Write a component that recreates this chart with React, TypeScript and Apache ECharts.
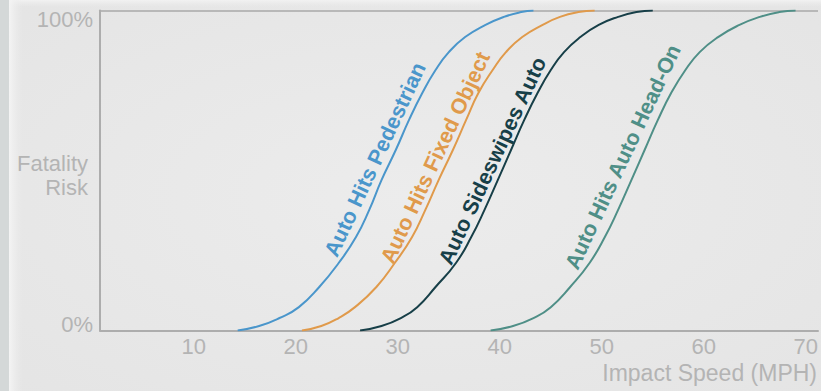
import React, { useEffect, useRef } from "react";
import * as echarts from "echarts";

// Impact speed (MPH) vs fatality risk (%)
const pedestrianSpeed = [14.3, 16.4, 18.4, 20.3, 22.3, 24.2, 25.9, 27.2, 28.4, 29.8, 31.1, 32.4, 33.7, 35.0, 36.6, 38.6, 40.4, 42.1, 43.3];
const pedestrianRisk = [0, 1.4, 3.9, 7.3, 13.6, 21.1, 29.2, 37.7, 47.0, 56.4, 65.8, 74.2, 81.4, 87.0, 91.7, 95.5, 98.0, 99.5, 100];

const fixedSpeed = [20.6, 22.5, 24.2, 25.8, 27.9, 29.7, 31.4, 32.7, 34.0, 35.4, 36.7, 37.9, 39.3, 40.6, 42.2, 44.2, 45.9, 47.7, 49.3];
const fixedRisk = [0, 1.4, 3.9, 7.3, 13.6, 21.1, 29.2, 37.7, 47.0, 56.4, 65.8, 74.2, 81.4, 87.0, 91.7, 95.5, 98.0, 99.5, 100];

const sideswipeSpeed = [26.3, 28.4, 30.3, 31.9, 33.7, 35.7, 37.2, 38.5, 39.8, 41.1, 42.4, 43.7, 45.0, 46.3, 47.9, 49.7, 51.6, 53.4, 55.0];
const sideswipeRisk = [0, 1.4, 3.9, 7.3, 13.6, 21.1, 29.2, 37.7, 47.0, 56.4, 65.8, 74.2, 81.4, 87.0, 91.7, 95.5, 98.0, 99.5, 100];

const headOnSpeed = [39.1, 41.3, 43.3, 45.0, 46.9, 48.8, 50.3, 51.6, 52.9, 54.2, 55.5, 56.8, 58.2, 59.6, 61.4, 63.5, 65.5, 67.4, 69.0];
const headOnRisk = [0, 1.4, 3.9, 7.3, 13.6, 21.1, 29.2, 37.7, 47.0, 56.4, 65.8, 74.2, 81.4, 87.0, 91.7, 95.5, 98.0, 99.5, 100];

const seriesNames = ["Auto Hits Pedestrian", "Auto Hits Fixed Object", "Auto Sideswipes Auto", "Auto Hits Auto Head-On"];
const xTicks = [10, 20, 30, 40, 50, 60, 70];
const yTickLabels = ["0%", "100%"];
const yAxisTitle = "Fatality\nRisk";
const xAxisTitle = "Impact Speed (MPH)";

const lineColors = ["#4a96cb", "#e09a4b", "#173f48", "#4f8f87"];
const labelAnchors = [
  [27.8, 53.4],
  [33.7, 54.0],
  [39.3, 53.0],
  [52.1, 54.2],
];

const FONT = "Liberation Sans, Arial, Helvetica, sans-serif";
const GRAY = "#b4b4b4";

function zip(xs: number[], ys: number[]) {
  return xs.map((x, i) => [x, ys[i]]);
}

export default function App() {
  const ref = useRef<HTMLDivElement>(null);
  useEffect(() => {
    if (!ref.current) return;
    const chart = echarts.init(ref.current, null, { renderer: "svg" });
    const datasets = [
      zip(pedestrianSpeed, pedestrianRisk),
      zip(fixedSpeed, fixedRisk),
      zip(sideswipeSpeed, sideswipeRisk),
      zip(headOnSpeed, headOnRisk),
    ];
    const option: any = {
      animation: false,
      backgroundColor: {
        type: "radial",
        x: 0.5,
        y: 0.5,
        r: 0.75,
        colorStops: [
          { offset: 0, color: "#ececec" },
          { offset: 1, color: "#e4e4e4" },
        ],
      },
      grid: { left: 100, right: 0, top: 10.5, bottom: 60.5, containLabel: false },
      xAxis: {
        type: "value",
        min: 0.8,
        max: 71.2,
        axisLine: { show: true, lineStyle: { color: "#adadad", width: 2 } },
        axisTick: { show: false },
        splitLine: { show: false },
        axisLabel: {
          customValues: xTicks,
          color: GRAY,
          fontFamily: FONT,
          fontSize: 22,
          margin: 5,
        },
      },
      yAxis: {
        type: "value",
        min: 0,
        max: 100,
        interval: 100,
        axisLine: { show: true, lineStyle: { color: "#adadad", width: 2 } },
        axisTick: { show: false },
        splitLine: { show: true, lineStyle: { color: "#b8b8b8", width: 2 } },
        axisLabel: {
          color: GRAY,
          fontFamily: FONT,
          fontSize: 22,
          margin: 7,
          formatter: (v: number) =>
            v >= 100 ? `{top|${yTickLabels[1]}}` : `{bot|${yTickLabels[0]}}`,
          rich: {
            top: { color: GRAY, fontFamily: FONT, fontSize: 22, padding: [17, 0, 0, 0] },
            bot: { color: GRAY, fontFamily: FONT, fontSize: 22, padding: [0, 0, 13, 0] },
          },
        },
      },
      graphic: [
        {
          type: "rect",
          shape: { x: 0, y: 0, width: 821, height: 7 },
          style: {
            fill: {
              type: "linear",
              x: 0,
              y: 0,
              x2: 0,
              y2: 1,
              colorStops: [
                { offset: 0, color: "#f2f2f2" },
                { offset: 1, color: "rgba(236,236,236,0)" },
              ],
            },
          },
          silent: true,
          z: -1,
        },
        {
          type: "rect",
          shape: { x: 0, y: 0, width: 9, height: 391 },
          style: { fill: "#d4d8d8" },
          silent: true,
        },
        {
          type: "rect",
          shape: { x: 9, y: 0, width: 14, height: 391 },
          style: {
            fill: {
              type: "linear",
              x: 0,
              y: 0,
              x2: 1,
              y2: 0,
              colorStops: [
                { offset: 0, color: "#f4f4f4" },
                { offset: 1, color: "rgba(235,235,235,0)" },
              ],
            },
          },
          silent: true,
        },
        {
          type: "text",
          x: 88,
          y: 175,
          style: {
            text: yAxisTitle,
            fill: GRAY,
            font: `22px ${FONT}`,
            align: "right",
            verticalAlign: "middle",
            lineHeight: 24,
          },
        },
        {
          type: "text",
          x: 817,
          y: 373,
          style: {
            text: xAxisTitle,
            fill: GRAY,
            font: `23px ${FONT}`,
            align: "right",
            verticalAlign: "middle",
          },
        },
      ],
      series: datasets.map((d, i) => ({
        type: "line",
        name: seriesNames[i],
        data: d,
        smooth: 0.5,
        showSymbol: false,
        symbol: "none",
        lineStyle: { color: lineColors[i], width: 2 },
        itemStyle: { color: lineColors[i] },
        markPoint: {
          symbol: "circle",
          symbolSize: 0,
          silent: true,
          label: {
            show: true,
            position: "inside",
            rotate: 65,
            formatter: seriesNames[i],
            color: lineColors[i],
            fontFamily: FONT,
            fontSize: 21.5,
            fontWeight: "bold",
          },
          data: [{ coord: labelAnchors[i] }],
        },
      })),
    };
    chart.setOption(option);
    return () => chart.dispose();
  }, []);
  return (
    <div
      ref={ref}
      style={{ position: "absolute", left: 0, top: 0, width: 821, height: 391 }}
    />
  );
}
